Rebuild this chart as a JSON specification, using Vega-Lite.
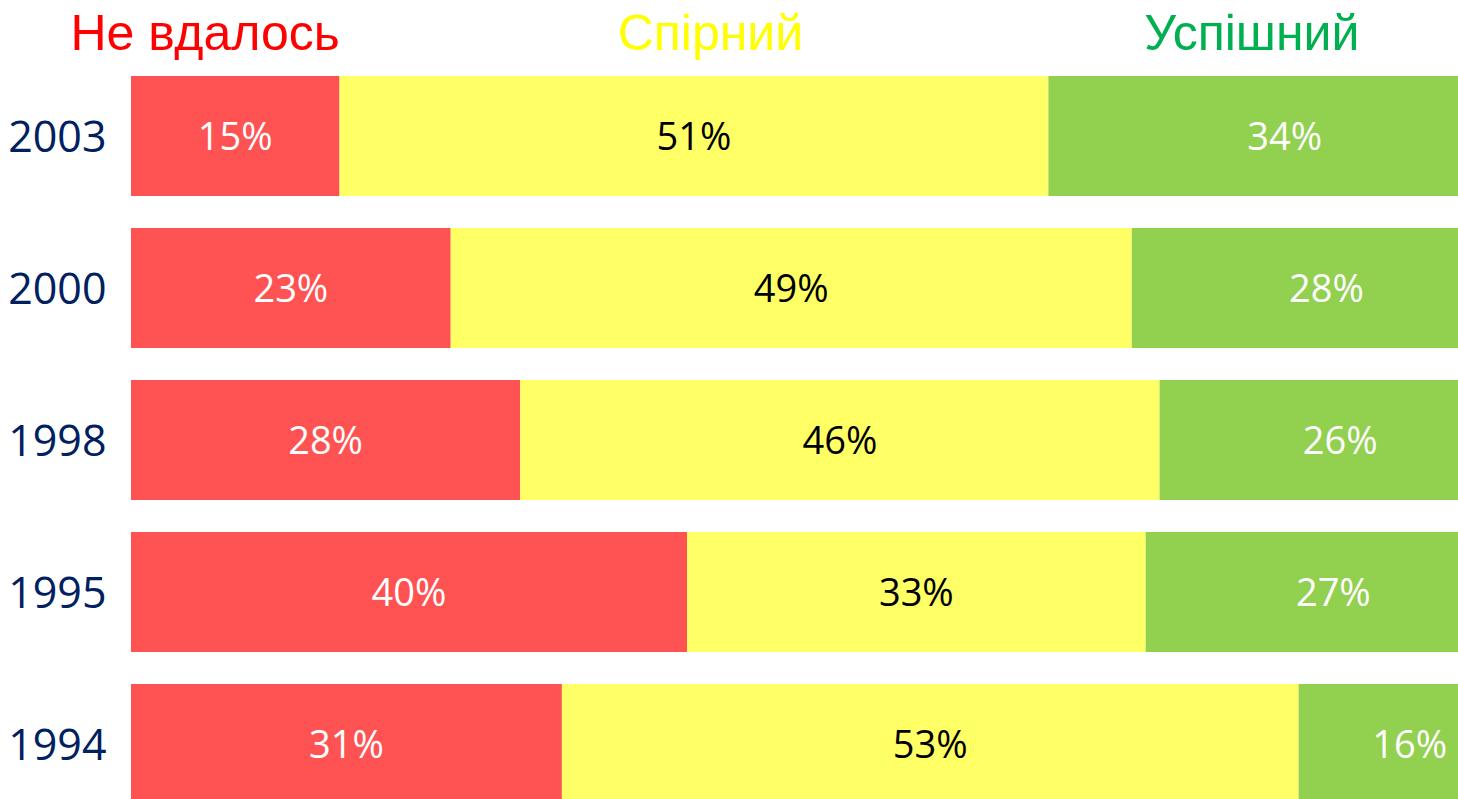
{
  "$schema": "https://vega.github.io/schema/vega-lite/v6.json",
  "autosize": "none",
  "padding": {"left": 131, "top": 76, "right": 0, "bottom": 0},
  "width": 1390,
  "height": 728,
  "background": "white",
  "view": {"stroke": null},
  "data": {
    "values": [
      {"year": "2003", "cat": "Не вдалось", "ord": 1, "pct": 15},
      {"year": "2003", "cat": "Спірний", "ord": 2, "pct": 51},
      {"year": "2003", "cat": "Успішний", "ord": 3, "pct": 34},
      {"year": "2000", "cat": "Не вдалось", "ord": 1, "pct": 23},
      {"year": "2000", "cat": "Спірний", "ord": 2, "pct": 49},
      {"year": "2000", "cat": "Успішний", "ord": 3, "pct": 28},
      {"year": "1998", "cat": "Не вдалось", "ord": 1, "pct": 28},
      {"year": "1998", "cat": "Спірний", "ord": 2, "pct": 46},
      {"year": "1998", "cat": "Успішний", "ord": 3, "pct": 26},
      {"year": "1995", "cat": "Не вдалось", "ord": 1, "pct": 40},
      {"year": "1995", "cat": "Спірний", "ord": 2, "pct": 33},
      {"year": "1995", "cat": "Успішний", "ord": 3, "pct": 27},
      {"year": "1994", "cat": "Не вдалось", "ord": 1, "pct": 31},
      {"year": "1994", "cat": "Спірний", "ord": 2, "pct": 53},
      {"year": "1994", "cat": "Успішний", "ord": 3, "pct": 16}
    ]
  },
  "transform": [
    {"stack": "pct", "groupby": ["year"], "sort": [{"field": "ord", "order": "ascending"}], "as": ["x0", "x1"]},
    {"calculate": "(datum.x0 + datum.x1) / 2", "as": "mid"},
    {"calculate": "datum.pct + '%'", "as": "label"}
  ],
  "encoding": {
    "y": {
      "field": "year",
      "type": "nominal",
      "sort": ["2003", "2000", "1998", "1995", "1994"],
      "scale": {"paddingInner": 0.2105, "paddingOuter": 0},
      "axis": {
        "title": null,
        "domain": false,
        "ticks": false,
        "tickSize": 0,
        "labelFont": "Open Sans",
        "labelFontSize": 43,
        "labelColor": "#002060",
        "labelPadding": 25,
        "labelOffset": 3
      }
    }
  },
  "layer": [
    {
      "mark": {"type": "bar"},
      "encoding": {
        "x": {
          "field": "x0",
          "type": "quantitative",
          "scale": {"domain": [0, 100], "nice": false},
          "axis": {
            "orient": "top",
            "title": null,
            "values": [5.3, 41.65, 80.6],
            "labelExpr": "datum.value < 20 ? 'Не вдалось' : (datum.value < 60 ? 'Спірний' : 'Успішний')",
            "labelFont": "Liberation Sans",
            "labelFontSize": 50,
            "labelBaseline": "alphabetic",
            "labelPadding": 27,
            "labelLimit": 0,
            "labelOverlap": false,
            "labelFlush": false,
            "ticks": false,
            "tickSize": 0,
            "domain": false,
            "grid": false,
            "labelColor": {"expr": "datum.value < 20 ? '#FF0000' : (datum.value < 60 ? '#FFFF00' : '#00B050')"}
          }
        },
        "x2": {"field": "x1"},
        "color": {
          "field": "cat",
          "type": "nominal",
          "scale": {"domain": ["Не вдалось", "Спірний", "Успішний"], "range": ["#FF5252", "#FFFF66", "#92D050"]},
          "legend": null
        }
      }
    },
    {
      "mark": {"type": "text", "font": "Open Sans", "fontSize": 38, "baseline": "middle", "align": "center", "dy": 3},
      "encoding": {
        "x": {"field": "mid", "type": "quantitative", "title": null},
        "text": {"field": "label", "type": "nominal"},
        "color": {
          "condition": {"test": "datum.cat === 'Спірний'", "value": "#000000"},
          "value": "#FFFFFF"
        }
      }
    }
  ]
}
